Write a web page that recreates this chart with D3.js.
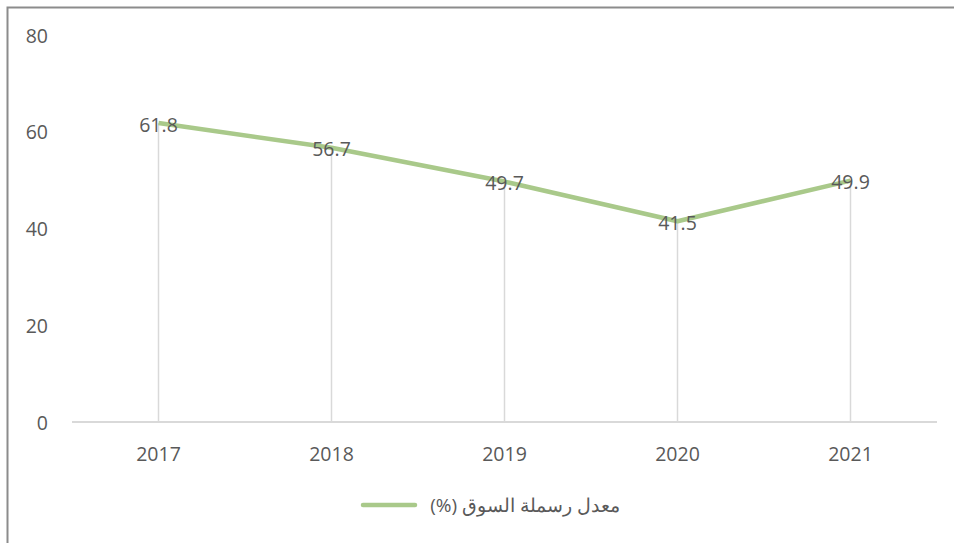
<!DOCTYPE html>
<html>
<head>
<meta charset="utf-8">
<script src="https://d3js.org/d3.v7.min.js"></script>
<style>
  html, body { margin: 0; padding: 0; background: #fff; }
  svg { display: block; }
  text { font-family: "Open Sans", "Noto Sans", sans-serif; fill: #595959; }
</style>
</head>
<body>
<svg id="chart" width="954" height="543"></svg>
<script>
const years = ["2017", "2018", "2019", "2020", "2021"]
const capRatio = [61.8, 56.7, 49.7, 41.5, 49.9]
const yTicks = [0, 20, 40, 60, 80]
const seriesName = "معدل رسملة السوق (%)"

const svg = d3.select("#chart")
const lineColor = "#a9c98a"

// outer frame (only top and left edges are visible)
svg.append("rect")
  .attr("x", 7.5).attr("y", 7.5)
  .attr("width", 1000).attr("height", 600)
  .attr("fill", "none").attr("stroke", "#8c8c8c").attr("stroke-width", 2)

const x = d3.scaleBand().domain(years).range([72, 937])
const y = d3.scaleLinear().domain([0, 80]).range([422, 35])

// y tick labels
svg.append("g").selectAll("text")
  .data(yTicks).join("text")
  .attr("x", 48).attr("y", d => y(d))
  .attr("text-anchor", "end")
  .attr("dominant-baseline", "central")
  .attr("font-size", 19.5)
  .text(d => d)

// x axis line
svg.append("line")
  .attr("x1", 72).attr("x2", 937)
  .attr("y1", y(0)).attr("y2", y(0))
  .attr("stroke", "#d9d9d9").attr("stroke-width", 2)

// x tick labels
svg.append("g").selectAll("text")
  .data(years).join("text")
  .attr("x", d => x(d) + x.bandwidth() / 2)
  .attr("y", 453)
  .attr("text-anchor", "middle")
  .attr("dominant-baseline", "central")
  .attr("font-size", 19.5)
  .text(d => d)

const pts = years.map((yr, i) => [x(yr) + x.bandwidth() / 2, y(capRatio[i])])

// drop lines
svg.append("g").selectAll("line")
  .data(pts).join("line")
  .attr("x1", d => d[0]).attr("x2", d => d[0])
  .attr("y1", d => d[1]).attr("y2", y(0))
  .attr("stroke", "#d9d9d9").attr("stroke-width", 1.5)

// series line
svg.append("path")
  .attr("d", d3.line()(pts))
  .attr("fill", "none")
  .attr("stroke", lineColor)
  .attr("stroke-width", 4.5)
  .attr("stroke-linejoin", "round")

// data labels
svg.append("g").selectAll("text")
  .data(pts).join("text")
  .attr("x", d => d[0]).attr("y", d => d[1] + 1)
  .attr("text-anchor", "middle")
  .attr("dominant-baseline", "central")
  .attr("font-size", 19.5)
  .text((d, i) => capRatio[i].toFixed(1))

// legend
svg.append("line")
  .attr("x1", 363).attr("x2", 415)
  .attr("y1", 505).attr("y2", 505)
  .attr("stroke", lineColor).attr("stroke-width", 4.5)
  .attr("stroke-linecap", "round")
svg.append("text")
  .attr("x", 620).attr("y", 505)
  .attr("text-anchor", "start")
  .attr("direction", "rtl")
  .attr("dominant-baseline", "central")
  .attr("font-size", 19)
  .text(seriesName)
</script>
</body>
</html>
